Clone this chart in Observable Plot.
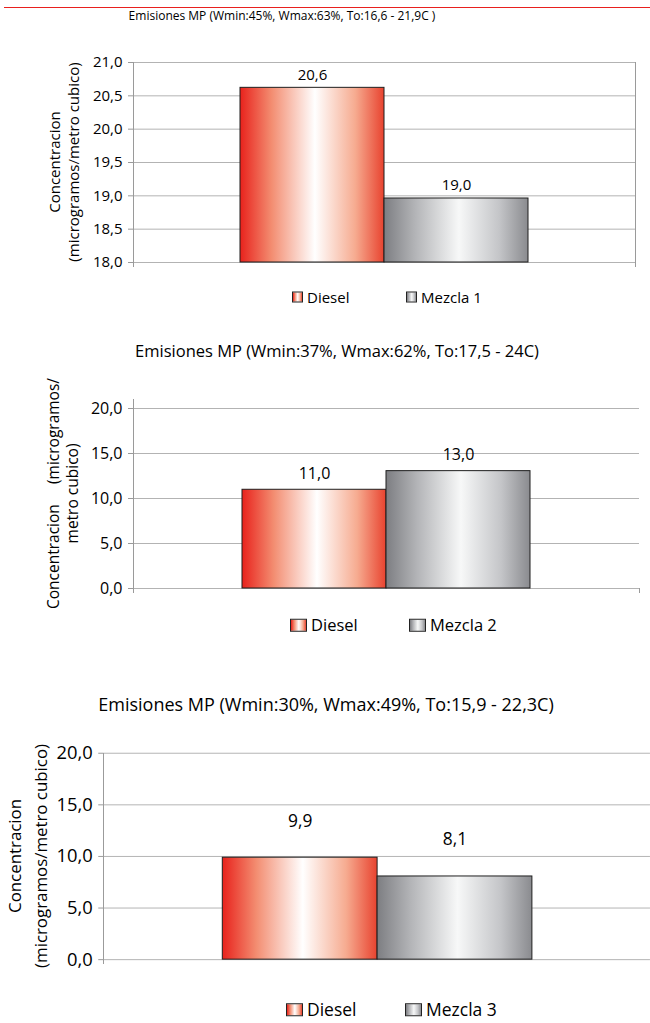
<!DOCTYPE html>
<html>
<head>
<meta charset="utf-8">
<script src="https://cdn.jsdelivr.net/npm/d3@7"></script>
<script src="https://cdn.jsdelivr.net/npm/@observablehq/plot@0.6"></script>
<style>
  html, body { margin: 0; padding: 0; background: #fff; }
  #page { position: relative; width: 650px; height: 1023px; overflow: hidden; background: #fff;
          font-family: "Open Sans", "Noto Sans", sans-serif; color: #000; }
  .topline { position: absolute; left: 4px; top: 7px; width: 646px; height: 1px; background: #e8201e; }
  .title { position: absolute; left: 0; white-space: nowrap; line-height: 1; transform: translate(-50%, -50%); }
  .chart { position: absolute; left: 0; }
  .leg { position: absolute; display: flex; align-items: center; white-space: nowrap; line-height: 1; transform: translateY(-50%); }
  .sw { box-sizing: border-box; border: 1px solid #222; margin-right: 4px; }
</style>
</head>
<body>
<div id="page"><div class="topline"></div></div>
<script>
// Particulate matter emissions (MP) per test run: Diesel vs. blend
const titles = [
  "Emisiones MP (Wmin:45%, Wmax:63%, To:16,6 - 21,9C )",
  "Emisiones MP (Wmin:37%, Wmax:62%, To:17,5 - 24C)",
  "Emisiones MP (Wmin:30%, Wmax:49%, To:15,9 - 22,3C)"
];
const series1 = ["Diesel", "Mezcla 1"];
const values1 = [20.62, 18.96];
const series2 = ["Diesel", "Mezcla 2"];
const values2 = [10.97, 13.04];
const series3 = ["Diesel", "Mezcla 3"];
const values3 = [9.88, 8.06];
const ticks1 = [18, 18.5, 19, 19.5, 20, 20.5, 21];
const ticks2 = [0, 5, 10, 15, 20];
const ticks3 = [0, 5, 10, 15, 20];
const axisTitle1 = ["Concentracion", "(microgramos/metro cubico)"];
const axisTitle2 = ["Concentracion     (microgramos/", "metro cubico)"];
const axisTitle3 = ["Concentracion", "(microgramos/metro cubico)"];

const fmt1 = d3.formatLocale({decimal: ",", thousands: ".", grouping: [3], currency: ["", ""]}).format(".1f");

const redStops = [[0, "#e8221c"], [0.22, "#f38d71"], [0.52, "#ffffff"], [0.8, "#f6ab90"], [1, "#e8432f"]];
const greyStops = [[0, "#7d7e82"], [0.22, "#b4b5b8"], [0.52, "#f7f8f8"], [0.8, "#c4c5c8"], [1, "#8a8b8f"]];
const cssGrad = stops => "linear-gradient(to right," + stops.map(([o, c]) => `${c} ${o * 100}%`).join(",") + ")";

const page = document.getElementById("page");

function chart(cfg) {
  const {id, series, values, ticks, domain, top, height, width, margin, padOuter,
         tickSize, labelSize, labelDy, title, titleY, titleX, titleSize,
         axisTitle, axisTitleX, axisTitleSize, legTop, legItems, legSize, swW, swH, rightBorder, rightTick} = cfg;
  const data = series.map((s, i) => ({series: s, value: values[i]}));
  const grads = [`${id}-d`, `${id}-m`];

  // title
  const t = document.createElement("div");
  t.className = "title";
  t.style.top = titleY + "px";
  t.style.left = titleX + "px";
  t.style.fontSize = titleSize + "px";
  t.textContent = title;
  page.appendChild(t);

  const plot = Plot.plot({
    width, height,
    marginTop: margin[0], marginRight: margin[1], marginBottom: margin[2], marginLeft: margin[3],
    style: {fontFamily: '"Open Sans", "Noto Sans", sans-serif', fontSize: tickSize + "px", color: "#000", background: "transparent", overflow: "visible"},
    x: {domain: series, paddingInner: 0, paddingOuter: padOuter, axis: null},
    y: {domain, axis: null},
    color: {domain: series, range: grads.map(g => `url(#${g})`)},
    marks: [
      Plot.ruleY(ticks, {stroke: "#b3b3b3", strokeWidth: 1}),
      Plot.axisY(ticks, {tickFormat: fmt1, tickSize: 5, tickPadding: 6, stroke: "#9a9a9a", fill: "#000", label: null, fontSize: tickSize}),
      Plot.barY(data, {x: "series", y1: domain[0], y2: "value", fill: "series", stroke: "#1e1e1e", strokeWidth: 1, inset: 0}),
      Plot.text(data, {x: "series", y: "value", text: d => fmt1(d.value), dy: labelDy, fontSize: labelSize, fill: "#000"})
    ]
  });

  const svg = d3.select(plot);
  const defs = svg.insert("defs", ":first-child");
  [redStops, greyStops].forEach((stops, i) => {
    const g = defs.append("linearGradient").attr("id", grads[i]).attr("x1", 0).attr("x2", 1).attr("y1", 0).attr("y2", 0);
    stops.forEach(([o, c]) => g.append("stop").attr("offset", o).attr("stop-color", c));
  });

  const [x0, x1] = plot.scale("x").range;
  const [yb, yt] = plot.scale("y").range;
  const ax = svg.append("g").attr("stroke", "#9a9a9a").attr("shape-rendering", "crispEdges");
  // value axis line and category axis end ticks
  ax.append("line").attr("x1", x0).attr("x2", x0).attr("y1", yt).attr("y2", yb + 5);
  if (rightBorder) ax.append("line").attr("x1", x1).attr("x2", x1).attr("y1", yt).attr("y2", yb + 5);
  else if (rightTick) ax.append("line").attr("x1", x1).attr("x2", x1).attr("y1", yb).attr("y2", yb + 5);

  // rotated value-axis title
  const cy = (yb + yt) / 2;
  axisTitle.forEach((line, i) => {
    svg.append("text")
      .attr("transform", `translate(${axisTitleX[i]},${cy}) rotate(-90)`)
      .attr("text-anchor", "middle").attr("dominant-baseline", "central")
      .attr("font-size", axisTitleSize).attr("fill", "#000")
      .style("white-space", "pre")
      .text(line);
  });

  plot.classList.add("chart");
  plot.style.top = top + "px";
  page.appendChild(plot);

  // legend
  const stops = [redStops, greyStops];
  series.forEach((s, i) => {
    const l = document.createElement("div");
    l.className = "leg";
    l.style.top = legTop + "px";
    l.style.left = legItems[i] + "px";
    l.style.fontSize = legSize + "px";
    const sw = document.createElement("span");
    sw.className = "sw";
    sw.style.width = swW + "px";
    sw.style.height = swH + "px";
    sw.style.background = cssGrad(stops[i]);
    l.appendChild(sw);
    l.appendChild(document.createTextNode(s));
    page.appendChild(l);
  });
}

chart({id: "c1", series: series1, values: values1, ticks: ticks1, domain: [18, 21],
  top: 40, height: 240, width: 650, margin: [22, 15, 18, 133], padOuter: 0.737,
  tickSize: 15, labelSize: 15, labelDy: -13,
  title: titles[0], titleY: 16, titleX: 282, titleSize: 12,
  axisTitle: axisTitle1, axisTitleX: [54, 73], axisTitleSize: 15,
  legTop: 297, legItems: [292, 406], legSize: 15, swW: 11, swH: 11, rightBorder: true});

chart({id: "c2", series: series2, values: values2, ticks: ticks2, domain: [0, 21],
  top: 380, height: 230, width: 650, margin: [19, 11, 22, 133], padOuter: 0.745,
  tickSize: 16, labelSize: 16, labelDy: -16,
  title: titles[1], titleY: 351, titleX: 337, titleSize: 16.5,
  axisTitle: axisTitle2, axisTitleX: [53, 72], axisTitleSize: 15.5,
  legTop: 625, legItems: [290, 409], legSize: 16.5, swW: 17, swH: 13, rightTick: true});

chart({id: "c3", series: series3, values: values3, ticks: ticks3, domain: [0, 20],
  top: 720, height: 260, width: 655, margin: [33, 0, 19, 104], padOuter: 0.755,
  tickSize: 18.5, labelSize: 17.5, labelDy: -37,
  title: titles[2], titleY: 704, titleX: 326, titleSize: 18,
  axisTitle: axisTitle3, axisTitleX: [15, 41], axisTitleSize: 17,
  legTop: 1010, legItems: [286, 405], legSize: 17.5, swW: 17, swH: 13});
</script>
</body>
</html>
